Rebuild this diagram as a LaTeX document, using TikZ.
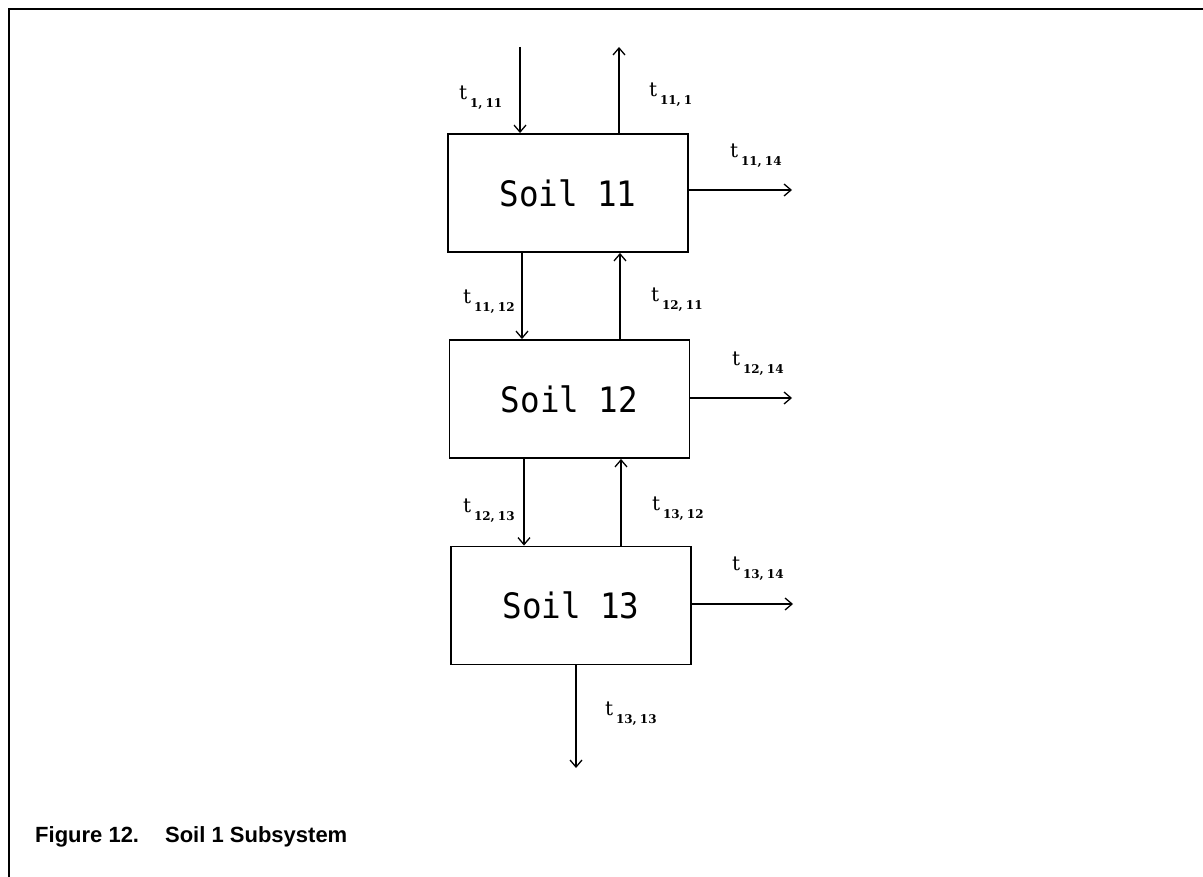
\documentclass[tikz,border=0pt]{standalone}
\usepackage{fontspec}
\setmainfont{Liberation Sans}
\newfontfamily\boxfont[FakeStretch=0.93]{DejaVu Sans Mono}
\newfontfamily\labfont{DejaVu Serif}
\usetikzlibrary{arrows.meta}
\newcommand{\tlab}[2]{{\labfont\fontsize{20}{20}\selectfont t}\hspace{3pt}\raisebox{-8pt}{\labfont\bfseries\fontsize{12}{12}\selectfont #1,\hspace{3pt}#2}}
\tikzset{
  soilbox/.style={draw, line width=1.9pt, minimum width=240pt, minimum height=118pt, inner sep=0pt,
     font=\boxfont\fontsize{35}{35}\selectfont},
  flow/.style={line width=1.3pt, -{Straight Barb[length=7pt,width=12pt,line width=1.3pt]}},
  lbl/.style={anchor=north west, inner sep=0pt, outer sep=0pt},
  frame/.style={line width=2pt},
  caption/.style={anchor=base west, inner sep=0pt, font=\bfseries\fontsize{22}{22}\selectfont}
}
\begin{document}
\begin{tikzpicture}[x=1pt,y=-1pt]
\useasboundingbox (0,0) rectangle (1203,877);
% frame (top and left)
\coordinate (fa) at (9,877);
\coordinate (fb) at (9,9);
\coordinate (fc) at (1203,9);
\draw[frame] (fa) -- (fb) -- (fc);

% boxes
\node[soilbox] (b11) at (568,193) {Soil 11};
\node[soilbox] (b12) at (569.5,399) {Soil 12};
\node[soilbox] (b13) at (571,605.5) {Soil 13};

% free ends
\coordinate (in1) at (520,47);
\coordinate (out1) at (619,47);
\coordinate (r11) at (792,190);
\coordinate (r12) at (792,398);
\coordinate (r13) at (793,604);
\coordinate (bot) at (576,768);
\coordinate (xa) at (522,0);
\coordinate (xb) at (620,0);
\coordinate (xc) at (524,0);
\coordinate (xd) at (621,0);

% connectors
\draw[flow] (in1) -- (b11.north -| in1);
\draw[flow] (b11.north -| out1) -- (out1);
\draw[flow] (b11.east |- r11) -- (r11);
\draw[flow] (b11.south -| xa) -- (b12.north -| xa);
\draw[flow] (b12.north -| xb) -- (b11.south -| xb);
\draw[flow] (b12.east |- r12) -- (r12);
\draw[flow] (b12.south -| xc) -- (b13.north -| xc);
\draw[flow] (b13.north -| xd) -- (b12.south -| xd);
\draw[flow] (b13.east |- r13) -- (r13);
\draw[flow] (b13.south -| bot) -- (bot);

% labels
\node[lbl] (l1) at (459,86) {\tlab{1}{11}};
\node[lbl] (l2) at (649,83) {\tlab{11}{1}};
\node[lbl] (l3) at (730,144) {\tlab{11}{14}};
\node[lbl] (l4) at (463,290) {\tlab{11}{12}};
\node[lbl] (l5) at (651,288) {\tlab{12}{11}};
\node[lbl] (l6) at (732,352) {\tlab{12}{14}};
\node[lbl] (l7) at (463,499) {\tlab{12}{13}};
\node[lbl] (l8) at (652,497) {\tlab{13}{12}};
\node[lbl] (l9) at (732,557) {\tlab{13}{14}};
\node[lbl] (l10) at (605,702) {\tlab{13}{13}};

% caption
\node[caption] (cap) at (35,842) {Figure 12.\hspace{26pt}Soil 1 Subsystem};
\end{tikzpicture}
\end{document}
